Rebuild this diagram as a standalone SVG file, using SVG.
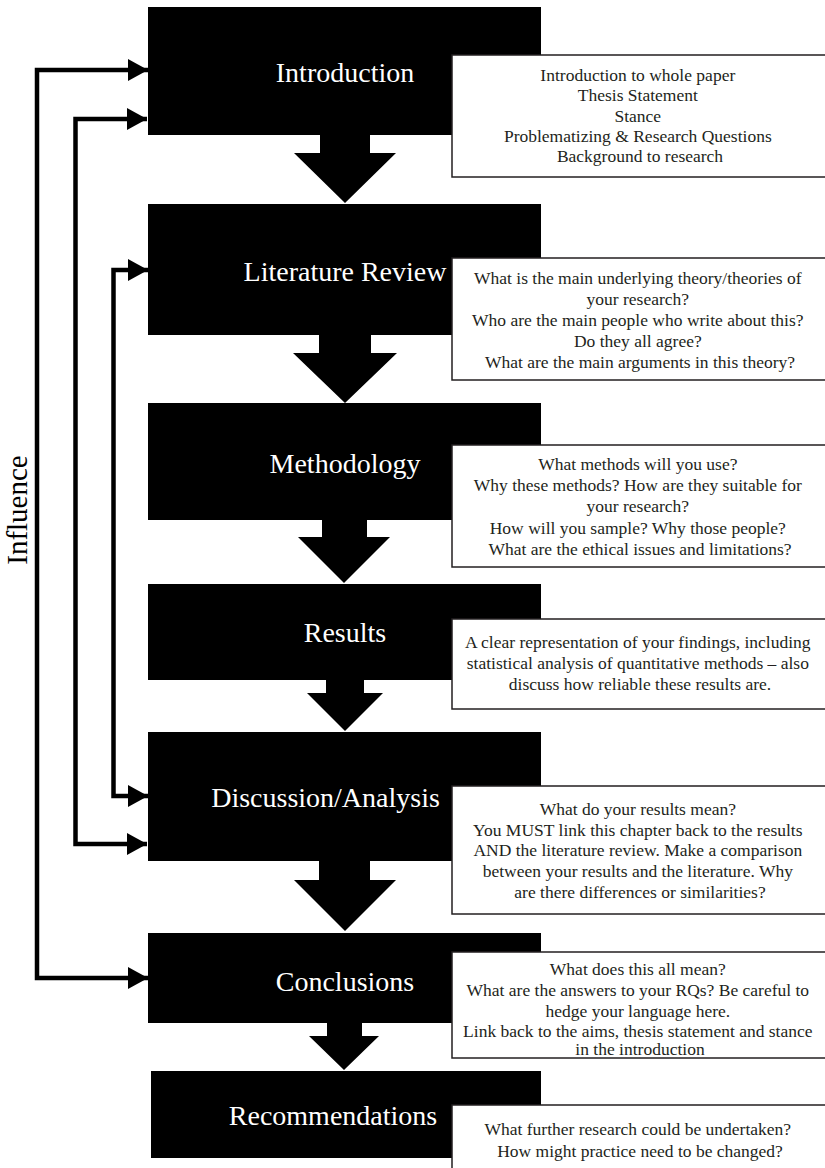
<svg xmlns="http://www.w3.org/2000/svg" width="825" height="1168" viewBox="0 0 825 1168">
  <style>
    .stage { fill: #000; }
    .title { font-family: "Liberation Serif", "Times New Roman", serif; font-size: 28px; fill: #fff; text-anchor: middle; }
    .note { fill: #fff; stroke: #231f20; stroke-width: 1.5; }
    .note-text { font-family: "Liberation Serif", "Times New Roman", serif; font-size: 17.5px; fill: #231f20; text-anchor: middle; }
    .flow { fill: #000; }
    .loop { fill: none; stroke: #000; stroke-width: 4.5; stroke-linejoin: miter; }
    .side { font-family: "Liberation Serif", "Times New Roman", serif; font-size: 29px; fill: #000; text-anchor: middle; }
  </style>
  <defs>
    <marker id="head" markerUnits="userSpaceOnUse" markerWidth="20" markerHeight="22" refX="20" refY="11" orient="auto-start-reverse">
      <path d="M0,0 L20,11 L0,22 z" fill="#000"/>
    </marker>
  </defs>

  <rect width="825" height="1168" fill="#fff"/>

  <!-- vertical label for the feedback loops -->
  <text class="side" transform="translate(27,510) rotate(-90)">Influence</text>

  <!-- connectors: block arrows between stages and the feedback loops on the left -->
  <g id="connectors">
    <polygon class="flow" points="320,135 370,135 370,153 396,153 345,203 294,153 320,153"/>
    <polygon class="flow" points="319,335 371,335 371,353 397,353 345,403 293,353 319,353"/>
    <polygon class="flow" points="322,520 367,520 367,537 390,537 344,583 298,537 322,537"/>
    <polygon class="flow" points="326,680 364,680 364,693 383,693 345,731 307,693 326,693"/>
    <polygon class="flow" points="319,861 370,861 370,880 396,880 345,931 294,880 319,880"/>
    <polygon class="flow" points="327,1023 362,1023 362,1036 379,1036 344,1070 309,1036 327,1036"/>

    <path class="loop" d="M148,70 H37 V978 H148" marker-start="url(#head)" marker-end="url(#head)"/>
    <path class="loop" d="M147,119 H75.5 V844 H147" marker-start="url(#head)" marker-end="url(#head)"/>
    <path class="loop" d="M148,270 H113.5 V796 H148" marker-start="url(#head)" marker-end="url(#head)"/>
  </g>

  <g id="introduction">
    <rect class="stage" x="148" y="7" width="393" height="128"/>
    <text class="title" x="345" y="82">Introduction</text>
    <rect class="note" x="452" y="55" width="380" height="122"/>
    <text class="note-text">
      <tspan x="640" y="81">Introduction to whole paper</tspan>
      <tspan x="640" y="101">Thesis Statement</tspan>
      <tspan x="640" y="121.5">Stance</tspan>
      <tspan x="640" y="141.5">Problematizing &amp; Research Questions</tspan>
      <tspan x="640" y="161.5">Background to research</tspan>
    </text>
  </g>

  <g id="literature-review">
    <rect class="stage" x="148" y="204" width="393" height="131"/>
    <text class="title" x="345" y="281">Literature Review</text>
    <rect class="note" x="452" y="258" width="380" height="122"/>
    <text class="note-text">
      <tspan x="640" y="284">What is the main underlying theory/theories of</tspan>
      <tspan x="640" y="305">your research?</tspan>
      <tspan x="640" y="326">Who are the main people who write about this?</tspan>
      <tspan x="640" y="347">Do they all agree?</tspan>
      <tspan x="640" y="368">What are the main arguments in this theory?</tspan>
    </text>
  </g>

  <g id="methodology">
    <rect class="stage" x="148" y="403" width="393" height="117"/>
    <text class="title" x="345" y="473">Methodology</text>
    <rect class="note" x="452" y="445" width="380" height="122"/>
    <text class="note-text">
      <tspan x="640" y="470">What methods will you use?</tspan>
      <tspan x="640" y="491">Why these methods? How are they suitable for</tspan>
      <tspan x="640" y="512">your research?</tspan>
      <tspan x="640" y="533.5">How will you sample? Why those people?</tspan>
      <tspan x="640" y="555">What are the ethical issues and limitations?</tspan>
    </text>
  </g>

  <g id="results">
    <rect class="stage" x="148" y="584" width="393" height="96"/>
    <text class="title" x="345" y="642">Results</text>
    <rect class="note" x="452" y="619" width="380" height="90"/>
    <text class="note-text">
      <tspan x="640" y="648">A clear representation of your findings, including</tspan>
      <tspan x="640" y="669">statistical analysis of quantitative methods – also</tspan>
      <tspan x="640" y="690">discuss how reliable these results are.</tspan>
    </text>
  </g>

  <g id="discussion-analysis">
    <rect class="stage" x="148" y="732" width="393" height="129"/>
    <text class="title" x="325.5" y="807">Discussion/Analysis</text>
    <rect class="note" x="452" y="786" width="380" height="128"/>
    <text class="note-text">
      <tspan x="640" y="815">What do your results mean?</tspan>
      <tspan x="640" y="835.5">You MUST link this chapter back to the results</tspan>
      <tspan x="640" y="856">AND the literature review. Make a comparison</tspan>
      <tspan x="640" y="877">between your results and the literature. Why</tspan>
      <tspan x="640" y="898">are there differences or similarities?</tspan>
    </text>
  </g>

  <g id="conclusions">
    <rect class="stage" x="148" y="933" width="393" height="90"/>
    <text class="title" x="345" y="991">Conclusions</text>
    <rect class="note" x="452" y="952" width="380" height="106"/>
    <text class="note-text">
      <tspan x="640" y="975">What does this all mean?</tspan>
      <tspan x="640" y="996">What are the answers to your RQs? Be careful to</tspan>
      <tspan x="640" y="1016.5">hedge your language here.</tspan>
      <tspan x="640" y="1036.5">Link back to the aims, thesis statement and stance</tspan>
      <tspan x="640" y="1055">in the introduction</tspan>
    </text>
  </g>

  <g id="recommendations">
    <rect class="stage" x="151" y="1071" width="390" height="87"/>
    <text class="title" x="333" y="1125">Recommendations</text>
    <rect class="note" x="452" y="1105" width="380" height="80"/>
    <text class="note-text">
      <tspan x="640" y="1135">What further research could be undertaken?</tspan>
      <tspan x="640" y="1157">How might practice need to be changed?</tspan>
    </text>
  </g>
</svg>
